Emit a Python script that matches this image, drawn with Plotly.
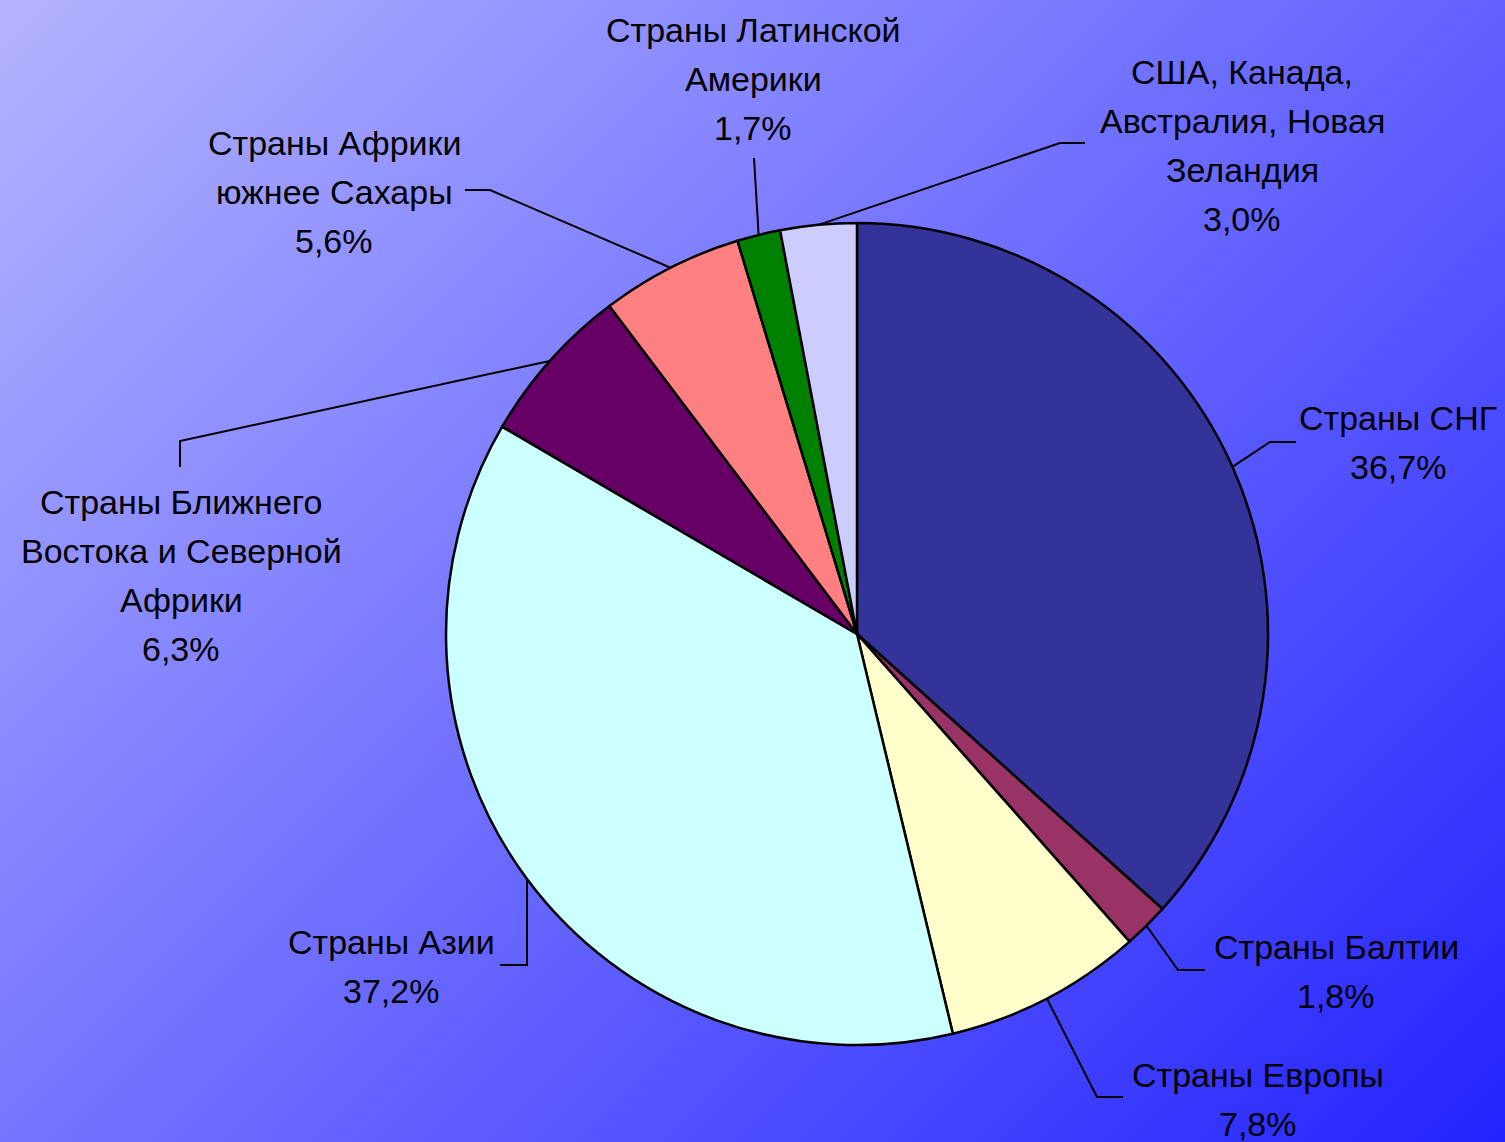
import base64
import math
import plotly.graph_objects as go

# ---------------- data ----------------
categories = [
    "Страны СНГ",
    "Страны Балтии",
    "Страны Европы",
    "Страны Азии",
    "Страны Ближнего Востока и Северной Африки",
    "Страны Африки южнее Сахары",
    "Страны Латинской Америки",
    "США, Канада, Австралия, Новая Зеландия",
]
shares = [36.7, 1.8, 7.8, 37.2, 6.3, 5.6, 1.7, 3.0]
label_lines = [
    ["Страны СНГ"],
    ["Страны Балтии"],
    ["Страны Европы"],
    ["Страны Азии"],
    ["Страны Ближнего", "Востока и Северной", "Африки"],
    ["Страны Африки", "южнее Сахары"],
    ["Страны Латинской", "Америки"],
    ["США, Канада,", "Австралия, Новая", "Зеландия"],
]
slice_colors = ["#333399", "#993366", "#FFFFCC", "#CCFFFF",
                "#660066", "#FF8080", "#008000", "#CCCCFF"]

# ---------------- layout constants (pixels) ----------------
W, H = 1505, 1142
CX, CY, R = 857, 634, 411
LINE_GAP = 49
FONT_SIZE = 34
# label block: (center x, y of first line)
label_pos = [
    (1398, 418),
    (1336, 947),
    (1258, 1075),
    (391, 942),
    (181, 502),
    (334, 143),
    (753, 30),
    (1242, 72),
]
# leader polyline points after the start point on the pie edge
leader_pts = [
    [(1270, 442), (1296, 442)],
    [(1178, 970), (1205, 970)],
    [(1097, 1097), (1123, 1097)],
    [(527, 965), (500, 965)],
    [(180, 441), (180, 467)],
    [(490, 190), (465, 190)],
    [(754, 158)],
    [(1060, 143), (1085, 143)],
]


def px(x):
    return x / W


def py(y):
    return 1 - y / H


fig = go.Figure(go.Pie(
    labels=categories,
    values=shares,
    sort=False,
    direction="clockwise",
    rotation=0,
    textinfo="none",
    hoverinfo="label+percent",
    marker=dict(colors=slice_colors, line=dict(color="black", width=2.5)),
    domain=dict(x=[px(CX - R), px(CX + R)], y=[py(CY + R), py(CY - R)]),
    showlegend=False,
))

total = sum(shares)
shapes = []
annotations = []
cum = 0.0
for i, v in enumerate(shares):
    mid = (cum + v / 2) / total * 2 * math.pi
    cum += v
    sx = CX + R * math.sin(mid)
    sy = CY - R * math.cos(mid)
    pts = [(sx, sy)] + leader_pts[i]
    path = "M " + " L ".join(f"{px(a):.5f},{py(b):.5f}" for a, b in pts)
    shapes.append(dict(type="path", xref="paper", yref="paper", path=path,
                       line=dict(color="black", width=2)))
    lines = label_lines[i] + [f"{v:.1f}".replace(".", ",") + "%"]
    lx, ly = label_pos[i]
    for k, t in enumerate(lines):
        annotations.append(dict(
            text=t, x=px(lx), y=py(ly + k * LINE_GAP), xref="paper", yref="paper",
            xanchor="center", yanchor="middle", showarrow=False,
            font=dict(family="Liberation Sans, Arial, sans-serif", size=FONT_SIZE, color="black"),
        ))

svg = f'''<svg xmlns="http://www.w3.org/2000/svg" width="{W}" height="{H}" viewBox="0 0 {W} {H}" preserveAspectRatio="none">
<defs><linearGradient id="g" gradientUnits="userSpaceOnUse" x1="0" y1="0" x2="{(W+H)/2:.1f}" y2="{(W+H)/2:.1f}">
<stop offset="0" stop-color="#B4B4FF"/><stop offset="1" stop-color="#2323FF"/></linearGradient></defs>
<rect x="0" y="0" width="{W}" height="{H}" fill="url(#g)"/></svg>'''
src = "data:image/svg+xml;base64," + base64.b64encode(svg.encode()).decode()

fig.update_layout(
    width=W, height=H,
    margin=dict(l=0, r=0, t=0, b=0),
    paper_bgcolor="#7070FF",
    plot_bgcolor="rgba(0,0,0,0)",
    images=[dict(source=src, xref="paper", yref="paper", x=0, y=1, sizex=1, sizey=1,
                 xanchor="left", yanchor="top", sizing="stretch", layer="below")],
    shapes=shapes,
    annotations=annotations,
)

fig.write_html("out.html", config={"displayModeBar": False},
               post_script="document.body.style.margin='0';")
